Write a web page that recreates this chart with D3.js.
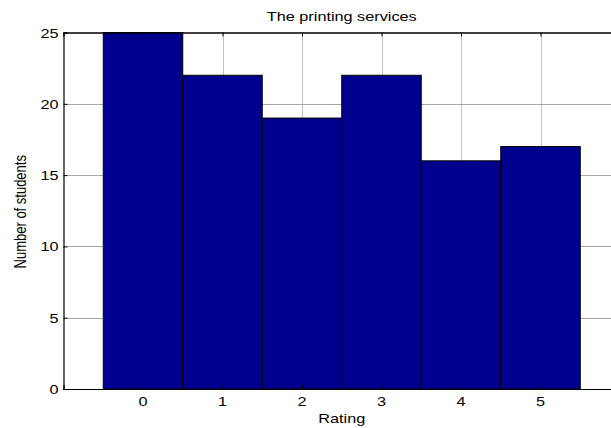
<!DOCTYPE html>
<html><head><meta charset="utf-8">
<script src="https://cdn.jsdelivr.net/npm/d3@7"></script>
<style>body{margin:0;background:#fff}svg{display:block}text{font-family:"Liberation Sans",Arial,sans-serif}</style>
</head><body><svg id="c" width="611" height="428"></svg>
<script>
const ratings = [0, 1, 2, 3, 4, 5];
const counts = [25, 22, 19, 22, 16, 17];
const yTicks = [0, 5, 10, 15, 20, 25];
const title = "The printing services";
const xLabel = "Rating";
const yLabel = "Number of students";

const svg = d3.select("#c");
const L = 63.5, R = 620, T = 32.5, B = 389;
const FS = 13, SX = 1.25;
const x = d3.scaleLinear().domain([-1, 6]).range([L, R]);
const y = d3.scaleLinear().domain([0, 25]).range([B, T]);

svg.append("rect").attr("width", 611).attr("height", 428).attr("fill", "#fff");

// grid
const g = svg.append("g");
g.selectAll(".hg").data(yTicks.slice(1, -1)).join("line")
  .attr("x1", L).attr("x2", R).attr("y1", d => Math.round(y(d)) + 0.5).attr("y2", d => Math.round(y(d)) + 0.5)
  .attr("stroke", "#a8a8a8").attr("stroke-width", 1);
g.selectAll(".vg").data(ratings).join("line")
  .attr("x1", d => Math.round(x(d)) + 0.5).attr("x2", d => Math.round(x(d)) + 0.5).attr("y1", T).attr("y2", B)
  .attr("stroke", "#808080").attr("stroke-width", 1).attr("stroke-dasharray", "1,1");

// bars
svg.selectAll(".bar").data(ratings).join("rect")
  .attr("x", d => x(d - 0.5)).attr("width", d => x(d + 0.5) - x(d - 0.5))
  .attr("y", (d, i) => y(counts[i])).attr("height", (d, i) => B - y(counts[i]))
  .attr("fill", "#00008F").attr("stroke", "#000").attr("stroke-width", 1);

// axes (lines/ticks via d3 axes, labels drawn stretched)
const yAx = d3.axisLeft(y).tickValues(yTicks).tickSize(-4).tickFormat("");
const ya = svg.append("g").attr("transform", `translate(${L},0)`).call(yAx);
const xAx = d3.axisBottom(x).tickValues(ratings).tickSize(-4).tickFormat("");
const xa = svg.append("g").attr("transform", `translate(0,${B})`).call(xAx);
const xt = svg.append("g").attr("transform", `translate(0,${T})`).call(d3.axisTop(x).tickValues(ratings).tickSize(-4).tickFormat(""));
[ya, xa, xt].forEach(a => {
  a.selectAll(".domain").attr("stroke", "#000").attr("stroke-width", 1.2);
  a.selectAll("line").attr("stroke", "#000");
});
xt.selectAll(".domain").attr("stroke-width", 1.5);

function stext(px, py, txt, anchor) {
  svg.append("text").attr("transform", `translate(${px},${py}) scale(${SX},1)`)
    .attr("text-anchor", anchor).attr("font-size", FS).attr("fill", "#000").text(txt);
}
yTicks.forEach(t => stext(L - 5, y(t) + 5, d3.format("d")(t), "end"));
ratings.forEach(r => stext(x(r), 405.5, d3.format("d")(r), "middle"));
stext((L + R) / 2, 21, title, "middle");
stext((L + R) / 2, 423, xLabel, "middle");
svg.append("text").attr("transform", `translate(26,${(T + B) / 2 + 1}) scale(${SX},1) rotate(-90)`)
  .attr("text-anchor", "middle").attr("font-size", FS).attr("fill", "#000").text(yLabel);
</script></body></html>
